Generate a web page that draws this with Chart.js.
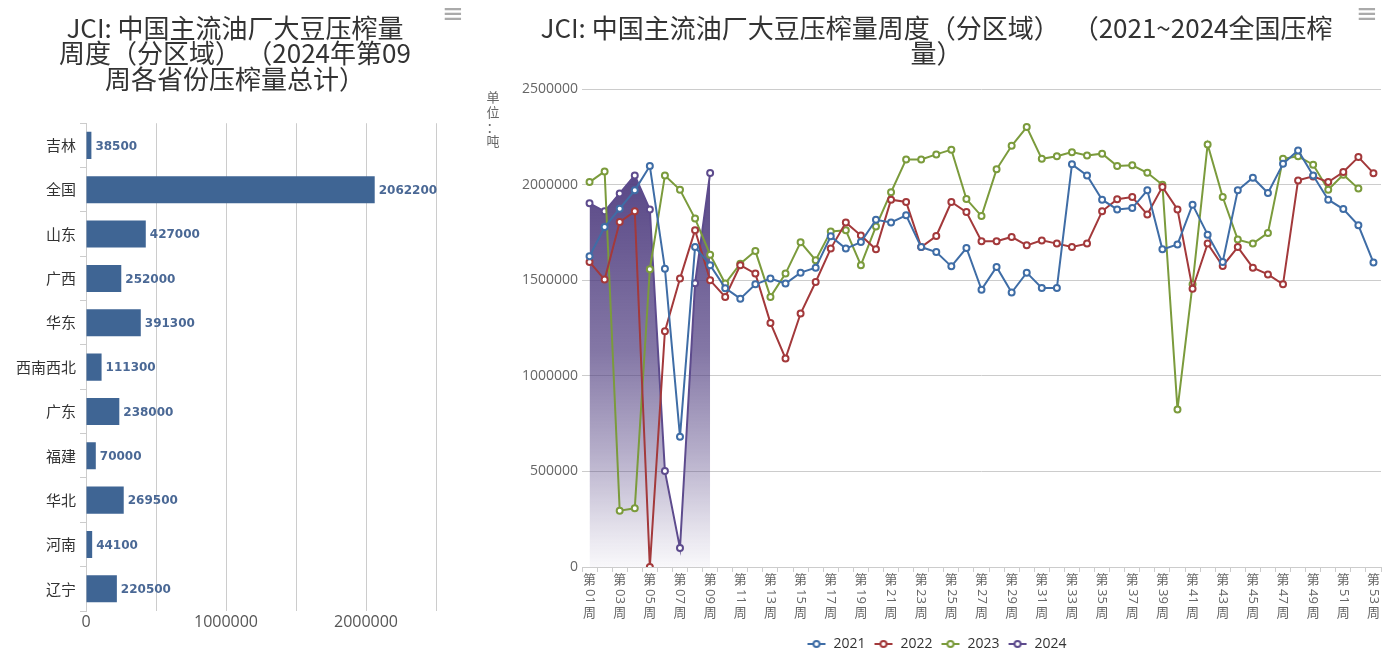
<!DOCTYPE html>
<html>
<head>
<meta charset="utf-8">
<script src="https://cdn.jsdelivr.net/npm/chart.js@4.4.1/dist/chart.umd.min.js"></script>
<style>
  html, body { margin: 0; padding: 0; background: #fff; }
  body { width: 1393px; height: 655px; position: relative; overflow: hidden; }
  .box { position: absolute; top: 0; height: 655px; }
  #leftBox { left: 0; width: 470px; }
  #rightBox { left: 480px; width: 913px; }
  .menu { position: absolute; top: -2px; font: 26px "DejaVu Sans"; color: #aaa; }
</style>
</head>
<body>
<div class="box" id="leftBox"><canvas id="barChart"></canvas></div>
<div class="box" id="rightBox"><canvas id="lineChart"></canvas></div>
<div class="menu" style="left:442px">≡</div>
<div class="menu" style="left:1356px">≡</div>
<script>
// left chart: 2024 week 09 by province
const provinces = ['吉林', '全国', '山东', '广西', '华东', '西南西北', '广东', '福建', '华北', '河南', '辽宁'];
const provinceTotals = [38500, 2062200, 427000, 252000, 391300, 111300, 238000, 70000, 269500, 44100, 220500];

// right chart: weekly national crush
const weekLabels = [
  '第01周', '第02周', '第03周', '第04周', '第05周', '第06周', '第07周', '第08周', '第09周', '第10周',
  '第11周', '第12周', '第13周', '第14周', '第15周', '第16周', '第17周', '第18周', '第19周', '第20周',
  '第21周', '第22周', '第23周', '第24周', '第25周', '第26周', '第27周', '第28周', '第29周', '第30周',
  '第31周', '第32周', '第33周', '第34周', '第35周', '第36周', '第37周', '第38周', '第39周', '第40周',
  '第41周', '第42周', '第43周', '第44周', '第45周', '第46周', '第47周', '第48周', '第49周', '第50周',
  '第51周', '第52周', '第53周'
];
const yearNames = ['2021', '2022', '2023', '2024'];
const crush2021 = [
  1627000, 1780000, 1876000, 1972000, 2099000, 1562000, 682000, 1675000, 1580000, 1460000,
  1405000, 1480000, 1510000, 1484000, 1541000, 1567000, 1731000, 1667000, 1701000, 1818000,
  1804000, 1841000, 1675000, 1649000, 1574000, 1670000, 1452000, 1571000, 1437000, 1541000,
  1461000, 1461000, 2108000, 2050000, 1923000, 1872000, 1879000, 1972000, 1663000, 1689000,
  1897000, 1740000, 1597000, 1972000, 2038000, 1958000, 2111000, 2181000, 2050000, 1923000,
  1874000, 1789000, 1594000
];
const crush2022 = [
  1597000, 1505000, 1806000, 1862000, 0, 1234000, 1510000, 1763000, 1501000, 1414000,
  1580000, 1536000, 1278000, 1092000, 1327000, 1492000, 1667000, 1803000, 1736000, 1663000,
  1923000, 1911000, 1675000, 1733000, 1911000, 1858000, 1705000, 1705000, 1728000, 1684000,
  1710000, 1693000, 1675000, 1693000, 1862000, 1925000, 1937000, 1845000, 1990000, 1872000,
  1457000, 1693000, 1576000, 1675000, 1567000, 1532000, 1480000, 2024000, 2045000, 2015000,
  2068000, 2146000, 2062000
];
const crush2023 = [
  2015000, 2071000, 295000, 307000, 1559000, 2050000, 1975000, 1824000, 1635000, 1484000,
  1588000, 1654000, 1414000, 1536000, 1700000, 1606000, 1757000, 1763000, 1580000, 1783000,
  1962000, 2134000, 2134000, 2160000, 2185000, 1926000, 1837000, 2082000, 2205000, 2303000,
  2137000, 2150000, 2172000, 2155000, 2164000, 2099000, 2103000, 2064000, 2001000, 825000,
  1480000, 2212000, 1937000, 1714000, 1693000, 1749000, 2137000, 2150000, 2106000, 1975000,
  2054000, 1981000, null
];
const crush2024 = [1904000, 1862000, 1956000, 2050000, 1872000, 502000, 99000, 1485000, 2062200];

const unitLabel = '单位：吨';
const lineColors = ['#3f6da6', '#a3393b', '#7b9b3c', '#5d4b8d'];
const CJK = '"Noto Sans CJK SC", "Noto Sans", sans-serif';
const NUM = '"Open Sans", "DejaVu Sans", sans-serif';

Chart.defaults.animation = false;

// empty axis on the right: reserves space without shifting the centred title
function spacerAxis(width) {
  return {
    position: 'right',
    grid: { display: false },
    ticks: { display: false },
    border: { display: false },
    afterFit: s => { s.width = width; }
  };
}

// values printed at the end of each bar
const barLabelPlugin = {
  id: 'barLabels',
  afterDatasetsDraw(chart) {
    const ctx = chart.ctx;
    const meta = chart.getDatasetMeta(0);
    ctx.save();
    ctx.font = 'bold 12px "DejaVu Sans"';
    ctx.fillStyle = '#4a6895';
    ctx.textAlign = 'left';
    ctx.textBaseline = 'middle';
    meta.data.forEach((bar, i) => {
      ctx.fillText(String(provinceTotals[i]), bar.x + 4, bar.y + 1);
    });
    ctx.restore();
  }
};

new Chart(document.getElementById('barChart'), {
  type: 'bar',
  data: {
    labels: provinces,
    datasets: [{
      data: provinceTotals,
      backgroundColor: '#3f6594',
      borderWidth: 0,
      categoryPercentage: 1,
      barPercentage: 0.61
    }]
  },
  options: {
    indexAxis: 'y',
    responsive: true,
    maintainAspectRatio: false,
    layout: { padding: { left: 0, right: 0, top: 0, bottom: 14 } },
    plugins: {
      legend: { display: false },
      tooltip: { enabled: false },
      title: {
        display: true,
        text: ['JCI: 中国主流油厂大豆压榨量', '周度（分区域）\u2009（2024年第09', '周各省份压榨量总计）'],
        color: '#333',
        font: { family: CJK, size: 26, weight: 'normal', lineHeight: 0.99 },
        padding: { top: 15, bottom: 31 }
      }
    },
    scales: {
      x: {
        min: 0,
        max: 2500000,
        ticks: {
          stepSize: 500000,
          autoSkip: false,
          maxRotation: 0,
          padding: 2,
          color: '#555',
          font: { family: NUM, size: 16 },
          callback: v => (v % 1000000 === 0 ? v : '')
        },
        grid: { color: '#cccccc', drawTicks: false },
        border: { display: false },
        afterFit: s => { s.height = 30; }
      },
      y: {
        ticks: { color: '#333', font: { family: CJK, size: 15 }, padding: 4, autoSkip: false },
        grid: { drawOnChartArea: false, drawTicks: true, tickLength: 6, color: '#cccccc', offset: true },
        border: { color: '#cccccc' },
        afterFit: s => { s.width = 86; }
      },
      yPad: { type: 'category', ...spacerAxis(34) }
    }
  },
  plugins: [barLabelPlugin]
});

// legend marker: short line with a hollow circle
function legendMarker(color) {
  const c = document.createElement('canvas');
  c.width = 20;
  c.height = 10;
  const g = c.getContext('2d');
  g.strokeStyle = color;
  g.lineWidth = 2;
  g.beginPath(); g.moveTo(1, 5); g.lineTo(19, 5); g.stroke();
  g.beginPath(); g.arc(10, 5, 3, 0, Math.PI * 2);
  g.fillStyle = '#fff'; g.fill(); g.stroke();
  return c;
}
const markers = lineColors.map(legendMarker);

// vertical week labels (第 / rotated digits / 周) and the unit label
const weekAxisPlugin = {
  id: 'weekAxis',
  afterDraw(chart) {
    const xs = chart.scales.x;
    const ctx = chart.ctx;
    ctx.save();
    ctx.fillStyle = '#666';
    weekLabels.forEach((lab, i) => {
      if (i % 2) return;
      const x = xs.getPixelForValue(i);
      const top = xs.top + 7;
      const digits = lab.slice(1, -1);
      ctx.font = '13px ' + CJK;
      ctx.textAlign = 'center';
      ctx.textBaseline = 'top';
      ctx.fillText(lab[0], x, top - 1);
      ctx.font = '13px ' + NUM;
      const w = ctx.measureText(digits).width;
      ctx.save();
      ctx.translate(x, top + 15);
      ctx.rotate(Math.PI / 2);
      ctx.textAlign = 'left';
      ctx.textBaseline = 'middle';
      ctx.fillText(digits, 0, 0);
      ctx.restore();
      ctx.font = '13px ' + CJK;
      ctx.fillText(lab[lab.length - 1], x, top + 17 + w);
    });
    ctx.font = '13px ' + CJK;
    ctx.textAlign = 'center';
    ctx.textBaseline = 'middle';
    const ys = [97, 112, 127, 141];
    unitLabel.split('').forEach((ch, i) => ctx.fillText(ch, 13, ys[i]));
    ctx.restore();
  }
};

function lineSet(label, data, color) {
  return {
    label,
    data,
    borderColor: color,
    backgroundColor: color,
    borderWidth: 2,
    pointRadius: 3,
    pointBorderWidth: 2,
    pointBackgroundColor: '#fff',
    pointBorderColor: color,
    tension: 0,
    fill: false
  };
}

const set2024 = lineSet(yearNames[3], crush2024, lineColors[3]);
set2024.fill = 'origin';
set2024.backgroundColor = context => {
  const { chart } = context;
  const area = chart.chartArea;
  if (!area) return 'rgba(80,62,128,0.5)';
  const g = chart.ctx.createLinearGradient(0, area.top, 0, area.bottom);
  g.addColorStop(0, 'rgba(80,62,128,1)');
  g.addColorStop(0.18, 'rgba(80,62,128,0.95)');
  g.addColorStop(0.55, 'rgba(80,62,128,0.7)');
  g.addColorStop(0.76, 'rgba(80,62,128,0.42)');
  g.addColorStop(0.94, 'rgba(80,62,128,0.12)');
  g.addColorStop(1, 'rgba(80,62,128,0.04)');
  return g;
};

new Chart(document.getElementById('lineChart'), {
  type: 'line',
  data: {
    labels: weekLabels,
    datasets: [
      lineSet(yearNames[0], crush2021, lineColors[0]),
      lineSet(yearNames[1], crush2022, lineColors[1]),
      lineSet(yearNames[2], crush2023, lineColors[2]),
      set2024
    ]
  },
  options: {
    responsive: true,
    maintainAspectRatio: false,
    layout: { padding: { left: 0, right: 0, top: 0, bottom: -6 } },
    plugins: {
      filler: { drawTime: 'beforeDatasetsDraw' },
      tooltip: { enabled: false },
      title: {
        display: true,
        text: ['JCI: 中国主流油厂大豆压榨量周度（分区域）\u2002（2021~2024全国压榨', '量）'],
        color: '#333',
        font: { family: CJK, size: 26, weight: 'normal', lineHeight: 0.99 },
        padding: { top: 15, bottom: 23 }
      },
      legend: {
        position: 'bottom',
        labels: {
          usePointStyle: true,
          pointStyleWidth: 20,
          padding: 8,
          color: '#333',
          font: { family: NUM, size: 14 },
          generateLabels(chart) {
            return Chart.defaults.plugins.legend.labels.generateLabels(chart)
              .map((item, i) => ({ ...item, pointStyle: markers[i] }));
          }
        }
      }
    },
    scales: {
      x: {
        offset: true,
        ticks: { display: false },
        grid: { drawOnChartArea: false, drawTicks: true, tickLength: 5, color: '#cccccc', offset: true },
        border: { color: '#cccccc' },
        afterFit: s => { s.height = 62; }
      },
      y: {
        min: 0,
        max: 2500000,
        ticks: {
          stepSize: 500000,
          padding: 4,
          color: '#666',
          font: { family: NUM, size: 14 },
          callback: v => v
        },
        grid: { color: '#cccccc', drawTicks: false },
        border: { display: false },
        afterFit: s => { s.width = 102; }
      },
      yPad: { type: 'linear', ...spacerAxis(12) }
    }
  },
  plugins: [weekAxisPlugin]
});
</script>
</body>
</html>
